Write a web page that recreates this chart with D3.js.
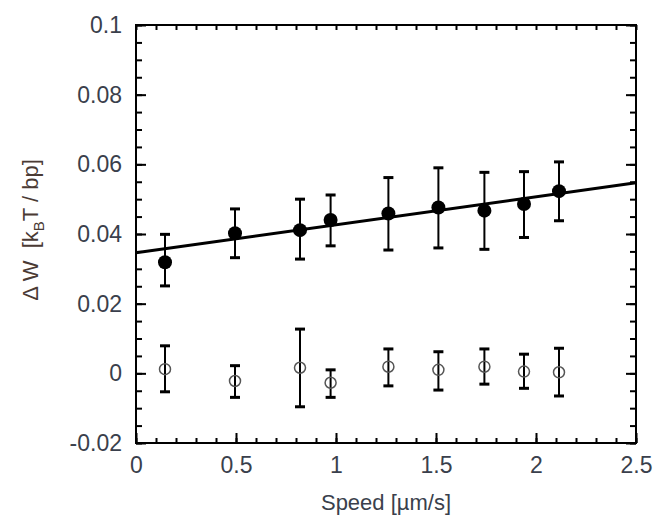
<!DOCTYPE html>
<html>
<head>
<meta charset="utf-8">
<script src="https://cdn.jsdelivr.net/npm/d3@7"></script>
<style>
  body { margin: 0; background: #fff; }
  text { font-family: "Liberation Sans", Arial, sans-serif; }
</style>
</head>
<body>
<svg id="chart" width="660" height="518"></svg>
<script>
// pulling speed (um/s), shared by both series
const speeds = [0.145, 0.495, 0.82, 0.973, 1.262, 1.512, 1.742, 1.94, 2.115];

// filled circles
const activeW  = [0.0319, 0.0402, 0.0411, 0.0440, 0.0459, 0.0476, 0.0467, 0.0486, 0.0523];
const activeHi = [0.0399, 0.0472, 0.0500, 0.0512, 0.0562, 0.0590, 0.0577, 0.0579, 0.0607];
const activeLo = [0.0251, 0.0332, 0.0328, 0.0366, 0.0354, 0.0360, 0.0356, 0.0390, 0.0438];

// open circles
const controlW  = [0.0012, -0.0022, 0.0016, -0.0027, 0.0019, 0.0010, 0.0019, 0.0005, 0.0003];
const controlHi = [0.0079, 0.0022, 0.0127, 0.0010, 0.0070, 0.0062, 0.0070, 0.0055, 0.0072];
const controlLo = [-0.0053, -0.0069, -0.0096, -0.0069, -0.0036, -0.0048, -0.0031, -0.0043, -0.0065];

// linear fit through the filled points
const fitX = [0, 2.5];
const fitY = [0.0346, 0.0547];

const xTicks = [0, 0.5, 1, 1.5, 2, 2.5];
const yTicks = [-0.02, 0, 0.02, 0.04, 0.06, 0.08, 0.1];

const svg = d3.select("#chart");
const margin = {top: 25, right: 24, bottom: 75, left: 136};
const width = 660, height = 518;

const x = d3.scaleLinear().domain([0, 2.5]).range([margin.left, width - margin.right]);
const y = d3.scaleLinear().domain([-0.02, 0.1]).range([height - margin.bottom, margin.top]);

const textColor = "#3a3f4c";
const fmt = d => d === 0 ? "0" : String(+d.toFixed(2));

const xMinor = d3.range(0, 2.5001, 0.1).map(d => +d.toFixed(2));
const yMinor = d3.range(-0.02, 0.10001, 0.005).map(d => +d.toFixed(3));

// frame
svg.append("rect")
    .attr("x", x(0)).attr("y", y(0.1))
    .attr("width", x(2.5) - x(0)).attr("height", y(-0.02) - y(0.1))
    .attr("fill", "none").attr("stroke", "#000").attr("stroke-width", 2);

function styleAxis(g) {
    g.select(".domain").remove();
    g.selectAll("line").attr("stroke", "#000").attr("stroke-width", 2);
    g.selectAll("text").attr("fill", textColor).attr("font-size", 23);
}

// minor ticks, all four sides
svg.append("g").attr("transform", `translate(0,${y(-0.02)})`)
    .call(d3.axisBottom(x).tickValues(xMinor).tickSize(-5).tickFormat(""))
    .call(styleAxis);
svg.append("g").attr("transform", `translate(0,${y(0.1)})`)
    .call(d3.axisTop(x).tickValues(xMinor).tickSize(-5).tickFormat(""))
    .call(styleAxis);
svg.append("g").attr("transform", `translate(${x(0)},0)`)
    .call(d3.axisLeft(y).tickValues(yMinor).tickSize(-6).tickFormat(""))
    .call(styleAxis);
svg.append("g").attr("transform", `translate(${x(2.5)},0)`)
    .call(d3.axisRight(y).tickValues(yMinor).tickSize(-6).tickFormat(""))
    .call(styleAxis);

// major ticks with labels
svg.append("g").attr("transform", `translate(0,${y(-0.02)})`)
    .call(d3.axisBottom(x).tickValues(xTicks).tickSize(-10).tickPadding(14).tickFormat(fmt))
    .call(styleAxis);
svg.append("g").attr("transform", `translate(${x(0)},0)`)
    .call(d3.axisLeft(y).tickValues(yTicks).tickSize(-10).tickPadding(14).tickFormat(fmt))
    .call(styleAxis);
svg.append("g").attr("transform", `translate(${x(2.5)},0)`)
    .call(d3.axisRight(y).tickValues(yTicks).tickSize(-10).tickFormat(""))
    .call(styleAxis);

// axis titles
svg.append("text")
    .attr("x", (x(0) + x(2.5)) / 2).attr("y", 510)
    .attr("text-anchor", "middle")
    .attr("font-size", 22)
    .attr("fill", textColor)
    .text("Speed [\u00b5m/s]");

const yTitle = svg.append("text")
    .attr("transform", "translate(38,230) rotate(-90)")
    .attr("text-anchor", "middle")
    .attr("font-size", 22)
    .attr("fill", "#4a3a34")
    .style("white-space", "pre");
yTitle.append("tspan").text("\u0394 W  [k");
yTitle.append("tspan").attr("font-size", 15).attr("dy", 6).text("B");
yTitle.append("tspan").attr("dy", -6).text("T / bp]");

// fit line
svg.append("path")
    .datum(fitX.map((d, i) => [d, fitY[i]]))
    .attr("fill", "none")
    .attr("stroke", "#000")
    .attr("stroke-width", 3)
    .attr("d", d3.line().x(d => x(d[0])).y(d => y(d[1])));

function errorBars(vals, lo, hi, cls) {
    const g = svg.append("g").attr("class", cls);
    const rows = speeds.map((s, i) => ({s, v: vals[i], lo: lo[i], hi: hi[i]}));
    g.selectAll("line.bar").data(rows).join("line").attr("class", "bar")
        .attr("x1", d => x(d.s)).attr("x2", d => x(d.s))
        .attr("y1", d => y(d.lo)).attr("y2", d => y(d.hi))
        .attr("stroke", "#000").attr("stroke-width", 2);
    ["lo", "hi"].forEach(k => {
        g.selectAll(`rect.cap-${k}`).data(rows).join("rect").attr("class", `cap-${k}`)
            .attr("x", d => x(d.s) - 5).attr("y", d => y(d[k]) - 1.5)
            .attr("width", 10).attr("height", 3)
            .attr("fill", "#000");
    });
    return {g, rows};
}

const active = errorBars(activeW, activeLo, activeHi, "active");
active.g.selectAll("circle").data(active.rows).join("circle")
    .attr("cx", d => x(d.s)).attr("cy", d => y(d.v))
    .attr("r", 7).attr("fill", "#000");

const control = errorBars(controlW, controlLo, controlHi, "control");
control.g.selectAll("circle").data(control.rows).join("circle")
    .attr("cx", d => x(d.s)).attr("cy", d => y(d.v))
    .attr("r", 5.5).attr("fill", "none")
    .attr("stroke", "#555").attr("stroke-width", 1.5);
</script>
</body>
</html>
